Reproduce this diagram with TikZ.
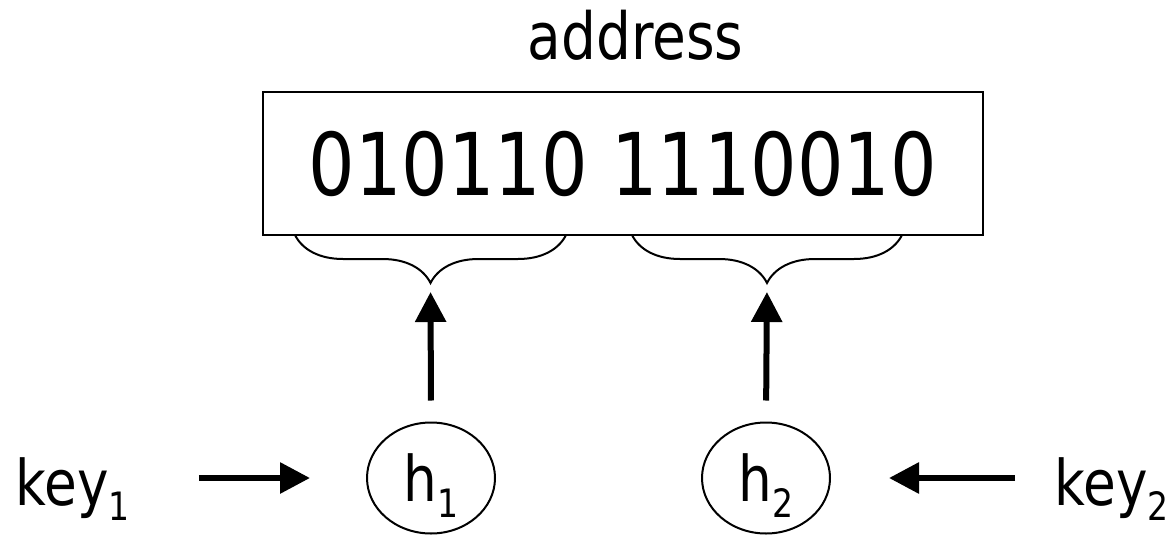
\documentclass[tikz,border=0pt]{standalone}
\usepackage{fontspec}
\setmainfont[FakeStretch=0.845]{DejaVu Sans}
\usepackage{tikz}
\usetikzlibrary{shapes.geometric, positioning, decorations.pathreplacing, arrows.meta}
\tikzstyle{bigarrow} = [line width=3pt,-{Triangle[length=15pt,width=15pt]}]
\tikzstyle{hashnode} = [draw, ellipse, line width=1pt, minimum width=64pt, minimum height=55.5pt, inner sep=0pt, text depth=0pt, font=\fontsize{31.5}{31.5}\selectfont]
\tikzstyle{keynode} = [inner sep=0pt, anchor=base west, font=\fontsize{31.5}{31.5}\selectfont]
\tikzstyle{bitbrace} = [line width=1pt, decorate, decoration={brace, mirror, amplitude=24pt}]
\newcommand{\lowidx}[1]{\raisebox{-0.24em}{\scalebox{0.62}{#1}}}

\begin{document}
\begin{tikzpicture}[x=0.5pt, y=-0.5pt]
        \useasboundingbox (0,0) rectangle (1172,535);
        \node[anchor=base, font=\fontsize{32.5}{32.5}\selectfont] (addr) at (635.5,60) {address};
        \node[draw, line width=1pt, minimum width=360pt, minimum height=71.5pt, inner sep=0pt, font=\fontsize{43.3}{43.3}\selectfont] (bits) at (623,163.5) {010110 1110010};
        % braces under the two bit groups
        \coordinate (b1l) at (295,235);
        \coordinate (b1r) at (566,235);
        \coordinate (b2l) at (632,235);
        \coordinate (b2r) at (902,235);
        \coordinate (tip1) at (430.5,283);
        \coordinate (tip2) at (767,283);
        \draw[bitbrace] (b1l) -- (b1r);
        \draw[bitbrace] (b2l) -- (b2r);
        \node[hashnode] (h1) at (431,478) {h\lowidx{1}};
        \node[hashnode] (h2) at (766,478) {h\lowidx{2}};
        \node[keynode] (key1) at (15,505) {key\lowidx{1}};
        \node[keynode] (key2) at (1054,505) {key\lowidx{2}};
        \draw[bigarrow, shorten <=10.5pt, shorten >=4.5pt] (h1.north) -- (tip1);
        \draw[bigarrow, shorten <=10.5pt, shorten >=4.5pt] (h2.north) -- (tip2);
        \draw[bigarrow, shorten <=34.5pt, shorten >=28pt] (key1.east |- h1.west) -- (h1.west);
        \draw[bigarrow, shorten <=19.5pt, shorten >=29pt] (key2.west |- h2.east) -- (h2.east);
\end{tikzpicture}
\end{document}
